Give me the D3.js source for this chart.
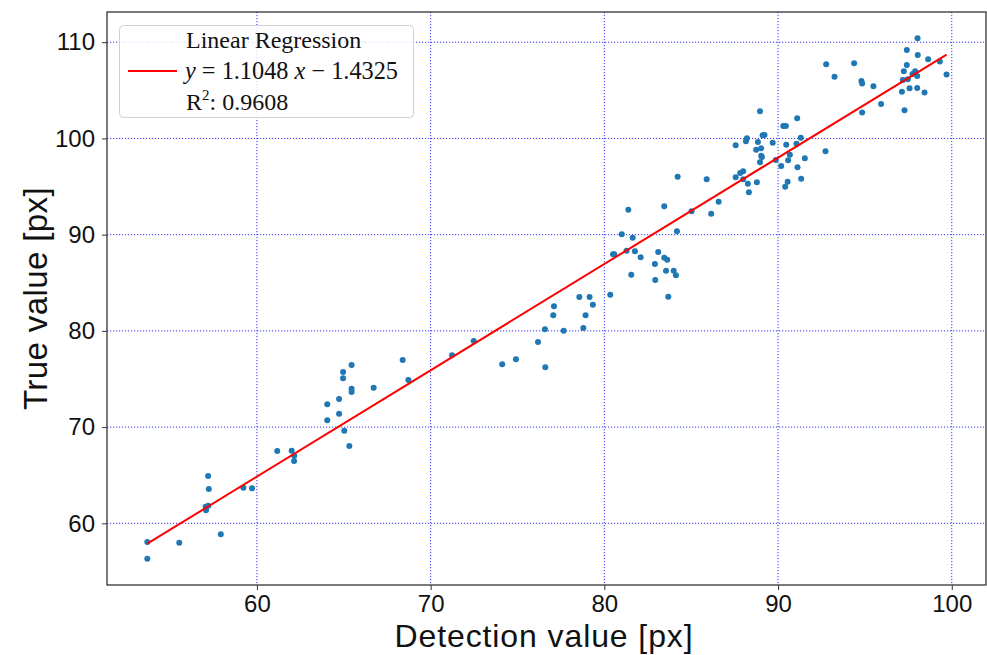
<!DOCTYPE html>
<html><head><meta charset="utf-8">
<script src="https://cdn.jsdelivr.net/npm/d3@7/dist/d3.min.js"></script>
<style>body{margin:0;background:#fff}</style>
</head><body>
<svg id="chart" width="987" height="655"></svg>
<script>
const detection = [
53.69,53.69,55.53,57.92,57.05,57.2,57.07,57.23,57.19,59.22,59.72,61.17,62.0,62.15,62.14,
64.05,64.05,64.73,64.73,64.96,64.96,65.03,65.32,65.45,65.45,65.45,66.72,68.39,68.72,
71.23,72.48,74.12,74.91,76.18,76.6,76.58,77.06,77.1,77.66,78.56,78.92,78.79,79.15,79.34,
80.34,80.5,80.57,81.0,81.28,81.63,81.55,81.76,82.09,82.91,82.93,83.1,83.45,83.62,83.55,
83.99,84.12,83.68,84.18,84.22,81.38,83.45,85.02,
85.89,86.15,86.58,87.56,87.56,87.82,87.99,87.99,88.15,88.21,88.26,88.32,88.78,88.74,88.84,
88.96,89.03,89.03,89.07,88.96,89.11,89.22,89.69,89.87,90.18,90.3,90.45,90.47,90.41,90.55,
90.58,90.68,91.06,91.1,91.12,91.31,91.33,91.54,92.73,92.77,93.25,94.38,94.8,94.84,94.84,
95.49,95.93,97.13,97.18,97.24,97.28,97.41,97.41,97.47,97.57,97.74,97.89,98.01,98.01,98.03,
98.04,98.43,98.64,99.31,99.7
];
const truth = [
58.06,56.32,57.98,58.86,61.73,61.83,61.35,63.56,64.92,63.7,63.64,67.51,67.55,67.03,66.47,
72.37,70.7,72.92,71.39,75.72,75.07,69.63,68.03,76.45,73.99,73.65,74.09,76.97,74.89,
77.46,78.95,76.52,77.04,78.84,76.21,80.16,81.62,82.55,80.02,83.52,81.62,80.3,83.52,82.72,
83.76,87.96,87.96,90.03,88.33,89.68,85.84,88.27,87.64,86.95,85.29,88.2,87.6,87.4,86.25,
86.25,85.77,83.55,90.35,96.02,92.59,92.94,92.42,
95.75,92.18,93.42,95.96,99.28,96.4,96.58,95.75,99.7,100.01,95.29,94.4,95.44,98.83,99.63,
102.82,98.97,98.21,98.07,97.52,100.32,100.35,99.55,97.75,97.13,101.29,101.29,99.35,94.98,95.5,
97.73,98.31,99.45,102.09,97.0,100.07,95.8,97.93,98.68,107.7,106.42,107.81,105.97,105.7,102.69,
105.42,103.58,104.86,106.07,106.98,102.92,107.62,109.18,106.14,105.21,106.69,106.98,106.49,105.24,110.4,
108.67,104.77,108.23,107.99,106.64
];
const xTicks = [60, 70, 80, 90, 100];
const yTicks = [60, 70, 80, 90, 100, 110];
const xDomain = [51.37, 101.97];
const yDomain = [53.59, 113.14];
const slope = 1.1048, intercept = -1.4325, r2 = 0.9608;
const legendTitle = "Linear Regression";
const xLabel = "Detection value [px]";
const yLabel = "True value [px]";

const L = 107, R = 986, T = 12, B = 585;
const svg = d3.select("#chart");
const x = d3.scaleLinear().domain(xDomain).range([L, R]);
const y = d3.scaleLinear().domain(yDomain).range([B, T]);

// grid
const grid = svg.append("g").attr("stroke", "#0000ff").attr("stroke-opacity", 0.8)
  .attr("stroke-width", 1).attr("stroke-dasharray", "1.2,1.8");
grid.selectAll(".gx").data(xTicks).join("line")
  .attr("x1", d => x(d)).attr("x2", d => x(d)).attr("y1", T).attr("y2", B);
grid.selectAll(".gy").data(yTicks).join("line")
  .attr("y1", d => y(d)).attr("y2", d => y(d)).attr("x1", L).attr("x2", R);

// axes
const xAxis = svg.append("g").attr("transform", `translate(0,${B})`)
  .call(d3.axisBottom(x).tickValues(xTicks).tickSize(5).tickPadding(5).tickSizeOuter(0));
const yAxis = svg.append("g").attr("transform", `translate(${L},0)`)
  .call(d3.axisLeft(y).tickValues(yTicks).tickSize(5).tickPadding(7).tickSizeOuter(0));
[xAxis, yAxis].forEach(a => {
  a.select(".domain").remove();
  a.selectAll(".tick line").attr("stroke", "#333").attr("stroke-width", 1);
  a.selectAll("text").attr("font-family", "Liberation Sans, Arial, sans-serif")
    .attr("font-size", 24).attr("fill", "#111");
});

// points
svg.append("g").selectAll("circle").data(detection.map((d, i) => [d, truth[i]])).join("circle")
  .attr("cx", d => x(d[0])).attr("cy", d => y(d[1])).attr("r", 3).attr("fill", "#1f77b4");

// regression line
const xr = d3.extent(detection);
svg.append("line")
  .attr("x1", x(xr[0])).attr("y1", y(slope * xr[0] + intercept))
  .attr("x2", x(xr[1])).attr("y2", y(slope * xr[1] + intercept))
  .attr("stroke", "red").attr("stroke-width", 2);

// frame
svg.append("rect").attr("x", L).attr("y", T).attr("width", R - L).attr("height", B - T)
  .attr("fill", "none").attr("stroke", "#333").attr("stroke-width", 1.3);

// legend
const lg = svg.append("g");
lg.append("rect").attr("x", 119.5).attr("y", 25.5).attr("width", 294).attr("height", 92).attr("rx", 4)
  .attr("fill", "white").attr("fill-opacity", 0.8).attr("stroke", "#d0d0d0");
lg.append("line").attr("x1", 128).attr("x2", 177).attr("y1", 71).attr("y2", 71)
  .attr("stroke", "red").attr("stroke-width", 2);
const tf = "Liberation Serif, Times New Roman, serif";
lg.append("text").attr("x", 186).attr("y", 48).attr("font-family", tf).attr("font-size", 24).attr("fill", "#111")
  .text(legendTitle);
const eq = lg.append("text").attr("x", 185).attr("y", 79).attr("font-family", tf).attr("font-size", 24.3).attr("fill", "#111");
eq.append("tspan").attr("font-style", "italic").text("y");
eq.append("tspan").text(" = " + slope.toFixed(4) + " ");
eq.append("tspan").attr("font-style", "italic").text("x");
eq.append("tspan").text(" \u2212 " + Math.abs(intercept).toFixed(4));
const rt = lg.append("text").attr("x", 186).attr("y", 110).attr("font-family", tf).attr("font-size", 24).attr("fill", "#111");
rt.append("tspan").text("R");
rt.append("tspan").attr("font-size", 15).attr("dy", -10).text("2");
rt.append("tspan").attr("dy", 10).text(": " + r2.toFixed(4));

// axis labels
svg.append("text").attr("x", 544).attr("y", 647).attr("text-anchor", "middle")
  .attr("font-family", "Liberation Sans, Arial, sans-serif").attr("font-size", 32)
  .attr("letter-spacing", 0.9).attr("fill", "#111")
  .text(xLabel);
svg.append("text").attr("transform", `translate(47,${(T + B) / 2}) rotate(-90)`).attr("text-anchor", "middle")
  .attr("font-family", "Liberation Sans, Arial, sans-serif").attr("font-size", 33)
  .attr("letter-spacing", 0.4).attr("fill", "#111")
  .text(yLabel);
</script>
</body></html>
